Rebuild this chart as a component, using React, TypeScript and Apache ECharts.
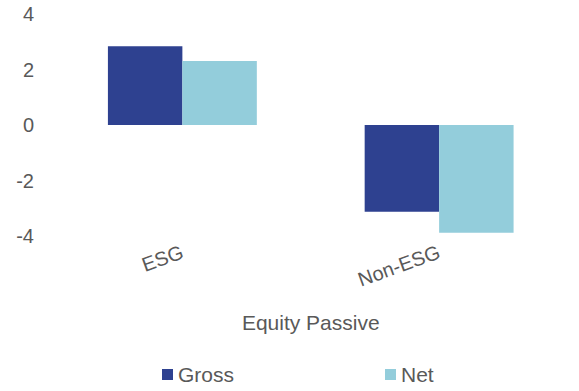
import React, { useEffect, useRef } from "react";
import * as echarts from "echarts";

const categories = ["ESG", "Non-ESG"];
const grossValues = [2.84, -3.13];
const netValues = [2.31, -3.88];
const seriesNames = ["Gross", "Net"];
const axisTitle = "Equity Passive";

export default function App() {
  const ref = useRef<HTMLDivElement>(null);
  useEffect(() => {
    if (!ref.current) return;
    const chart = echarts.init(ref.current, undefined, { renderer: "svg" });
    const font = "Liberation Sans, Arial, sans-serif";
    const textColor = "#595959";
    chart.setOption({
      animation: false,
      backgroundColor: "#ffffff",
      textStyle: { fontFamily: font },
      grid: { left: 54, right: 11.5, top: 14, bottom: 155, containLabel: false },
      legend: {
        left: 162,
        top: 364,
        padding: 0,
        icon: "rect",
        itemWidth: 11,
        itemHeight: 11,
        itemGap: 151,
        textStyle: { fontSize: 21, color: textColor, fontFamily: font },
        data: seriesNames,
      },
      xAxis: {
        type: "category",
        data: categories,
        name: axisTitle,
        nameLocation: "middle",
        nameGap: 76,
        nameTextStyle: { fontSize: 21, color: textColor, fontFamily: font },
        axisLine: { show: false },
        axisTick: { show: false },
        axisLabel: { rotate: 20, margin: 15, fontSize: 20, color: textColor, fontFamily: font },
        splitLine: { show: false },
      },
      yAxis: {
        type: "value",
        min: -4,
        max: 4,
        interval: 2,
        axisLine: { show: false },
        axisTick: { show: false },
        splitLine: { show: false },
        axisLabel: { margin: 20, fontSize: 20, color: textColor, fontFamily: font },
      },
      series: [
        {
          name: seriesNames[0],
          type: "bar",
          data: grossValues,
          barGap: "0%",
          barCategoryGap: "42%",
          itemStyle: { color: "#2E4190" },
        },
        {
          name: seriesNames[1],
          type: "bar",
          data: netValues,
          barGap: "0%",
          barCategoryGap: "42%",
          itemStyle: { color: "#93CDDB" },
        },
      ],
    });
    return () => chart.dispose();
  }, []);
  return (
    <div
      ref={ref}
      style={{ position: "fixed", left: 0, top: 0, width: 579, height: 391 }}
    />
  );
}
